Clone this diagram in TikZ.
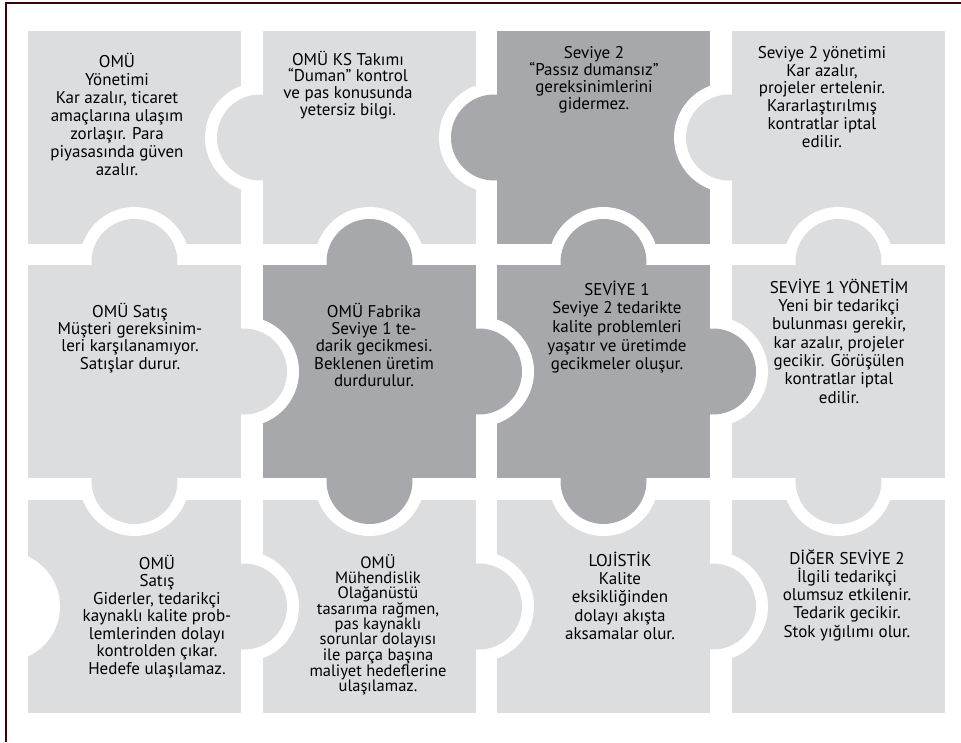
\documentclass[tikz,border=0pt]{standalone}
\usepackage{fontspec}
\setmainfont{PT Sans}
\definecolor{piecelight}{RGB}{220,221,223}
\definecolor{piecedark}{RGB}{167,168,171}
\definecolor{frameline}{RGB}{60,5,5}
\tikzset{
	lightpiece/.style={fill=piecelight},
	darkpiece/.style={fill=piecedark},
	blank/.style={fill=white},
	piecetext/.style={anchor=north, align=center, inner sep=0pt, text=black, font=\fontsize{17}{17.8}\selectfont},
}
\newcommand{\pzstrut}{\rule{0pt}{16pt}}

\begin{document}
\begin{tikzpicture}[x=1pt,y=-1pt]
		\useasboundingbox (0,0) rectangle (961,742);
		\draw[frameline, line width=1.6pt] (6,742) -- (6,3) -- (961,3);
		% piece bodies
		\fill[lightpiece] (28,31) rectangle (241,244);
		\fill[lightpiece] (263,31) rectangle (476,244);
		\fill[darkpiece] (497,31) rectangle (710,244);
		\fill[lightpiece] (732,31) rectangle (945,244);
		\fill[lightpiece] (28,265) rectangle (241,478);
		\fill[darkpiece] (263,265) rectangle (476,478);
		\fill[darkpiece] (497,265) rectangle (710,478);
		\fill[lightpiece] (732,265) rectangle (945,478);
		\fill[lightpiece] (28,500) rectangle (241,713);
		\fill[lightpiece] (263,500) rectangle (476,713);
		\fill[lightpiece] (497,500) rectangle (710,713);
		\fill[lightpiece] (732,500) rectangle (945,713);
		% blanks
		\begin{scope}
			\clip (28,31) rectangle (241,244);
			\fill[blank] (260,137.5) circle[radius=55pt];
			\fill[blank] (134.5,262) circle[radius=55pt];
		\end{scope}
		\begin{scope}
			\clip (263,31) rectangle (476,244);
			\fill[blank] (494,137.5) circle[radius=55pt];
			\fill[blank] (369.5,262) circle[radius=55pt];
		\end{scope}
		\begin{scope}
			\clip (497,31) rectangle (710,244);
			\fill[blank] (729,137.5) circle[radius=55pt];
			\fill[blank] (603.5,262) circle[radius=55pt];
		\end{scope}
		\begin{scope}
			\clip (732,31) rectangle (945,244);
			\fill[blank] (838.5,262) circle[radius=55pt];
		\end{scope}
		\begin{scope}
			\clip (263,265) rectangle (476,478);
			\fill[blank] (244,371.5) circle[radius=55pt];
		\end{scope}
		\begin{scope}
			\clip (497,265) rectangle (710,478);
			\fill[blank] (479,371.5) circle[radius=55pt];
		\end{scope}
		\begin{scope}
			\clip (732,265) rectangle (945,478);
			\fill[blank] (713,371.5) circle[radius=55pt];
		\end{scope}
		\begin{scope}
			\clip (28,500) rectangle (241,713);
			\fill[blank] (134.5,481) circle[radius=55pt];
			\fill[blank] (5,606.5) circle[radius=55pt];
		\end{scope}
		\begin{scope}
			\clip (263,500) rectangle (476,713);
			\fill[blank] (369.5,481) circle[radius=55pt];
			\fill[blank] (244,606.5) circle[radius=55pt];
		\end{scope}
		\begin{scope}
			\clip (497,500) rectangle (710,713);
			\fill[blank] (603.5,481) circle[radius=55pt];
			\fill[blank] (479,606.5) circle[radius=55pt];
		\end{scope}
		\begin{scope}
			\clip (732,500) rectangle (945,713);
			\fill[blank] (838.5,481) circle[radius=55pt];
			\fill[blank] (713,606.5) circle[radius=55pt];
		\end{scope}
		% tabs
		\fill[lightpiece] (260,137.5) circle[radius=43pt];
		\fill[darkpiece] (494,137.5) circle[radius=43pt];
		\fill[lightpiece] (729,137.5) circle[radius=43pt];
		\fill[lightpiece] (134.5,262) circle[radius=43pt];
		\fill[darkpiece] (369.5,262) circle[radius=43pt];
		\fill[darkpiece] (603.5,262) circle[radius=43pt];
		\fill[lightpiece] (838.5,262) circle[radius=43pt];
		\fill[lightpiece] (244,371.5) circle[radius=43pt];
		\fill[darkpiece] (479,371.5) circle[radius=43pt];
		\fill[darkpiece] (713,371.5) circle[radius=43pt];
		\fill[lightpiece] (134.5,481) circle[radius=43pt];
		\fill[darkpiece] (369.5,481) circle[radius=43pt];
		\fill[darkpiece] (603.5,481) circle[radius=43pt];
		\fill[lightpiece] (838.5,481) circle[radius=43pt];
		\fill[lightpiece] (244,606.5) circle[radius=43pt];
		\fill[lightpiece] (479,606.5) circle[radius=43pt];
		\fill[lightpiece] (713,606.5) circle[radius=43pt];
		% texts
		\node (omuyonetim) at (117,51)[piecetext, font=\fontsize{17}{18}\selectfont]{\pzstrut OMÜ\\Yönetimi\\Kar azalır, ticaret\\amaçlarına ulaşım\\zorlaşır. Para\\piyasasında güven\\azalır.};
		\node (kstakim) at (348,49)[piecetext, font=\fontsize{17}{16.7}\selectfont]{\pzstrut OMÜ KS Takımı\\“Duman” kontrol\\ve pas konusunda\\yetersiz bilgi.};
		\node (seviyeiki) at (594,42)[piecetext, font=\fontsize{17}{16.7}\selectfont]{\pzstrut Seviye 2\\“Passız dumansız”\\gereksinimlerini\\gidermez.};
		\node (seviyeikiyon) at (822,42)[piecetext]{\pzstrut Seviye 2 yönetimi\\Kar azalır,\\projeler ertelenir.\\Kararlaştırılmış\\kontratlar iptal\\edilir.};
		\node (omusatis) at (130,301)[piecetext, font=\fontsize{17}{17.3}\selectfont]{\pzstrut OMÜ Satış\\Müşteri gereksinim-\\leri karşılanamıyor.\\Satışlar durur.};
		\node (fabrika) at (374,301)[piecetext, font=\fontsize{17}{17.3}\selectfont]{\pzstrut OMÜ Fabrika\\Seviye 1 te-\\darik gecikmesi.\\Beklenen üretim\\durdurulur.};
		\node (seviyebir) at (617,279)[piecetext, font=\fontsize{17}{18.6}\selectfont]{\pzstrut SEVİYE 1\\Seviye 2 tedarikte\\kalite problemleri\\yaşatır ve üretimde\\gecikmeler oluşur.};
		\node (seviyebiryon) at (839,277)[piecetext, font=\fontsize{17}{18.3}\selectfont]{\pzstrut SEVİYE 1 YÖNETİM\\Yeni bir tedarikçi\\bulunması gerekir,\\kar azalır, projeler\\gecikir. Görüşülen\\kontratlar iptal\\edilir.};
		\node (omusatisgider) at (157,553)[piecetext, font=\fontsize{17}{17.5}\selectfont]{\pzstrut OMÜ\\Satış\\Giderler, tedarikçi\\kaynaklı kalite prob-\\lemlerinden dolayı\\kontrolden çıkar.\\Hedefe ulaşılamaz.};
		\node (muhendislik) at (378,552)[piecetext, font=\fontsize{16.5}{15.1}\selectfont]{\pzstrut OMÜ\\Mühendislik\\Olağanüstü\\tasarıma rağmen,\\pas kaynaklı\\sorunlar dolayısı\\ile parça başına\\maliyet hedeflerine\\ulaşılamaz.};
		\node (lojistik) at (620,550)[piecetext, font=\fontsize{17}{18.3}\selectfont]{\pzstrut LOJİSTİK\\Kalite\\eksikliğinden\\dolayı akışta\\aksamalar olur.};
		\node (digerseviye) at (847,548)[piecetext, font=\fontsize{17}{18.2}\selectfont]{\pzstrut DİĞER SEVİYE 2\\İlgili tedarikçi\\olumsuz etkilenir.\\Tedarik gecikir.\\Stok yığılımı olur.};
	\end{tikzpicture}
\end{document}
